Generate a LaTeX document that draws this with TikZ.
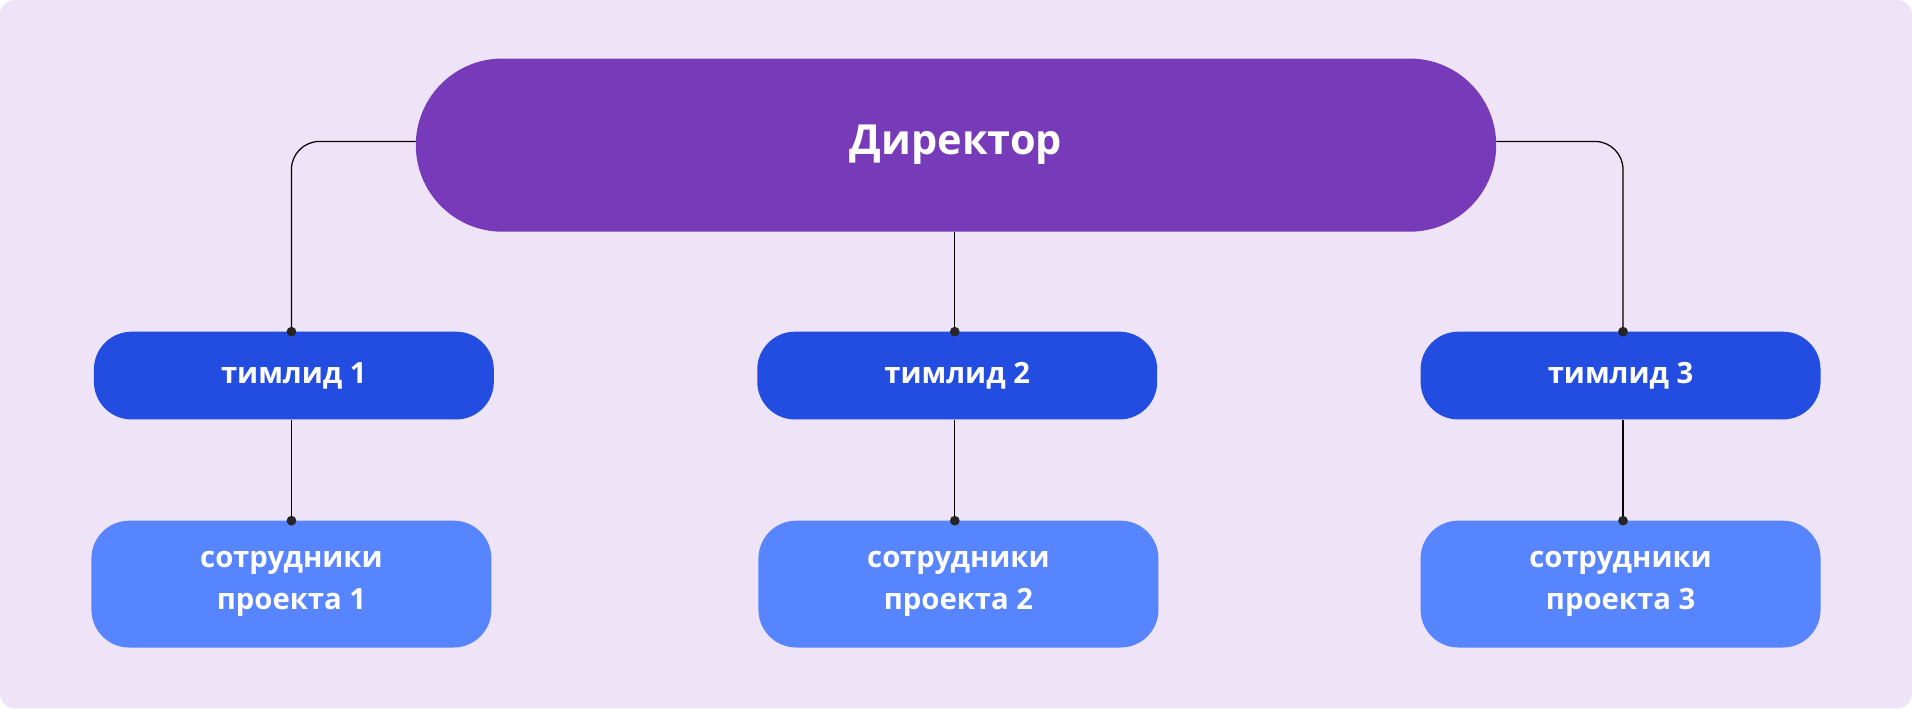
\documentclass[tikz,border=0pt]{standalone}
\usepackage{fontspec}
\setmainfont{Open Sans}
\definecolor{bg}{HTML}{EFE4F7}
\definecolor{dir}{HTML}{773BB9}
\definecolor{tl}{HTML}{234DE0}
\definecolor{emp}{HTML}{5784FF}
\tikzset{
 box/.style={rectangle,rounded corners=31pt,text=white,align=center,inner sep=0pt,font=\fontsize{24}{34}\selectfont\bfseries},
 tlbox/.style={box,fill=tl,minimum width=328pt,minimum height=72pt},
 empbox/.style={box,fill=emp,minimum width=328pt,minimum height=104pt},
 con/.style={draw=black,line width=1pt},
 dot/.style={circle,fill=black!85,inner sep=0pt,minimum size=8pt}
}
\begin{document}
\begin{tikzpicture}[x=1pt,y=-1pt]
\fill[bg,rounded corners=12pt] (0,0) rectangle (1568,581);
\useasboundingbox (0,0) rectangle (1568,581);
\node[rectangle,rounded corners=71pt,fill=dir,minimum width=886pt,minimum height=142pt,text=white,font=\fontsize{34}{40}\selectfont\bfseries] (d) at (784,119) {Директор};
\node[tlbox] (t1) at (241,308) {тимлид 1};
\node[tlbox] (t2) at (785,308) {тимлид 2};
\node[tlbox] (t3) at (1329,308) {тимлид 3};
\node[empbox] (e1) at (239,479) {сотрудники\\проекта 1};
\node[empbox] (e2) at (786,479) {сотрудники\\проекта 2};
\node[empbox] (e3) at (1329,479) {сотрудники\\проекта 3};
\coordinate (a1) at (239,272); \coordinate (a2) at (783,272); \coordinate (a3) at (1331,272);
\coordinate (b1) at (239,427); \coordinate (b2) at (783,427); \coordinate (b3) at (1331,427);
\draw[con,rounded corners=23pt] (d.west|-0,116) -- (239,116) -- (a1);
\draw[con,rounded corners=23pt] (d.east|-0,116) -- (1331,116) -- (a3);
\draw[con] (d.south-|a2) -- (a2);
\draw[con] (t1.south-|b1) -- (b1);
\draw[con] (t2.south-|b2) -- (b2);
\draw[con] (t3.south-|b3) -- (b3);
\foreach \p in {a1,a2,a3,b1,b2,b3} \node[dot] at (\p) {};
\end{tikzpicture}
\end{document}
